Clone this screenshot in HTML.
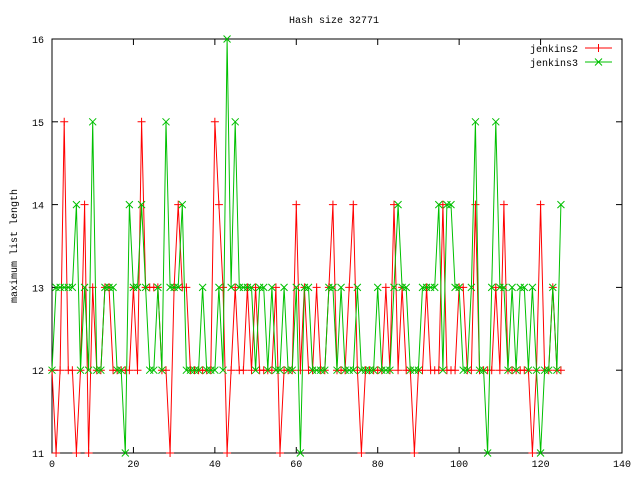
<!DOCTYPE html>
<html><head><meta charset="utf-8"><style>
body{margin:0;background:#fff}
svg text{font-family:"Liberation Mono",monospace;font-size:10px;fill:#000}
</style></head><body>
<svg id="chart" width="640" height="480" xmlns="http://www.w3.org/2000/svg"></svg>
<script>
const xTicks=[0,20,40,60,80,100,120,140];
const yTicks=[11,12,13,14,15,16];
const jenkins2=[12,11,12,15,12,12,11,12,14,11,13,12,12,13,13,12,12,12,12,12,13,12,15,13,13,13,13,12,12,11,13,14,13,13,12,12,12,12,12,12,15,14,13,11,12,13,12,12,13,12,13,12,12,12,12,13,11,12,12,12,14,12,13,12,12,13,12,12,13,14,12,12,12,13,14,12,11,12,12,12,12,12,13,12,14,12,13,12,12,11,12,12,13,12,12,12,14,12,12,12,13,13,12,12,14,12,12,12,12,13,12,14,12,12,12,12,12,12,11,12,14,12,12,13,12,12];
const jenkins3=[12,13,13,13,13,13,14,12,13,12,15,12,12,13,13,13,12,12,11,14,13,13,14,13,12,12,13,12,15,13,13,13,14,12,12,12,12,13,12,12,12,13,12,16,13,15,13,13,13,13,12,13,13,12,13,12,12,13,12,12,13,11,13,13,12,12,12,12,13,13,12,13,12,12,12,13,12,12,12,12,13,12,12,12,13,14,13,13,12,12,12,13,13,13,13,14,12,14,14,13,13,12,12,13,15,12,12,11,13,15,13,13,12,13,12,13,13,12,13,12,11,12,12,13,12,14];
const svg=document.getElementById('chart');
const NS='http://www.w3.org/2000/svg';
const L=52,R=622,T=39,B=453;
const xs=v=>L+(v-0)/(140)*(R-L);
const ys=v=>B-(v-11)/(5)*(B-T);
function mk(tag,attrs,txt){const e=document.createElementNS(NS,tag);for(const k in attrs)e.setAttribute(k,attrs[k]);if(txt!==undefined)e.textContent=txt;svg.appendChild(e);return e;}
let e=mk('text',{x:334,y:23,'text-anchor':'middle'},'Hash size 32771');


e=mk('text',{x:17,y:246,'text-anchor':'middle',transform:'rotate(-90 17 246)'},'maximum list length');


xTicks.forEach(t=>{const x=xs(t);
 e=mk('line',{x1:x,y1:B,x2:x,y2:B-6,stroke:'#000'});
 e=mk('line',{x1:x,y1:T,x2:x,y2:T+6,stroke:'#000'});
 e=mk('text',{x:x,y:B+14,'text-anchor':'middle'},String(t));});
yTicks.forEach(t=>{const y=ys(t);
 e=mk('line',{x1:L,y1:y,x2:L+6,y2:y,stroke:'#000'});
 e=mk('line',{x1:R,y1:y,x2:R-6,y2:y,stroke:'#000'});
 e=mk('text',{x:L-8,y:y+4,'text-anchor':'end'},String(t));});
e=mk('rect',{x:L,y:T,width:R-L,height:B-T,fill:'none',stroke:'#000'});


function series(data,color,kind,name){
 const pts=data.map((v,i)=>xs(i).toFixed(1)+','+ys(v).toFixed(1)).join(' ');
 let p=mk('polyline',{points:pts,fill:'none',stroke:color,'stroke-width':1});
 
 
 data.forEach((v,i)=>{marker(xs(i),ys(v),color,kind,name);});
}
function marker(x,y,color,kind,name){
 const d=kind==='plus'?`M${x-4},${y}H${x+4}M${x},${y-4}V${y+4}`:`M${x-3.5},${y-3.5}L${x+3.5},${y+3.5}M${x-3.5},${y+3.5}L${x+3.5},${y-3.5}`;
 const m=mk('path',{d:d,stroke:color,fill:'none'});
 
 
}
series(jenkins2,'#ff0000','plus','jenkins2');
series(jenkins3,'#00c000','cross','jenkins3');
[['jenkins2','#ff0000','plus',48],['jenkins3','#00c000','cross',62]].forEach(([n,c,k,y])=>{
 e=mk('text',{x:578,y:y+4,'text-anchor':'end'},n);
 e=mk('line',{x1:585,y1:y,x2:612,y2:y,stroke:c});
 marker(598.5,y,c,k,'legend-'+n);
});
</script>
</body></html>
